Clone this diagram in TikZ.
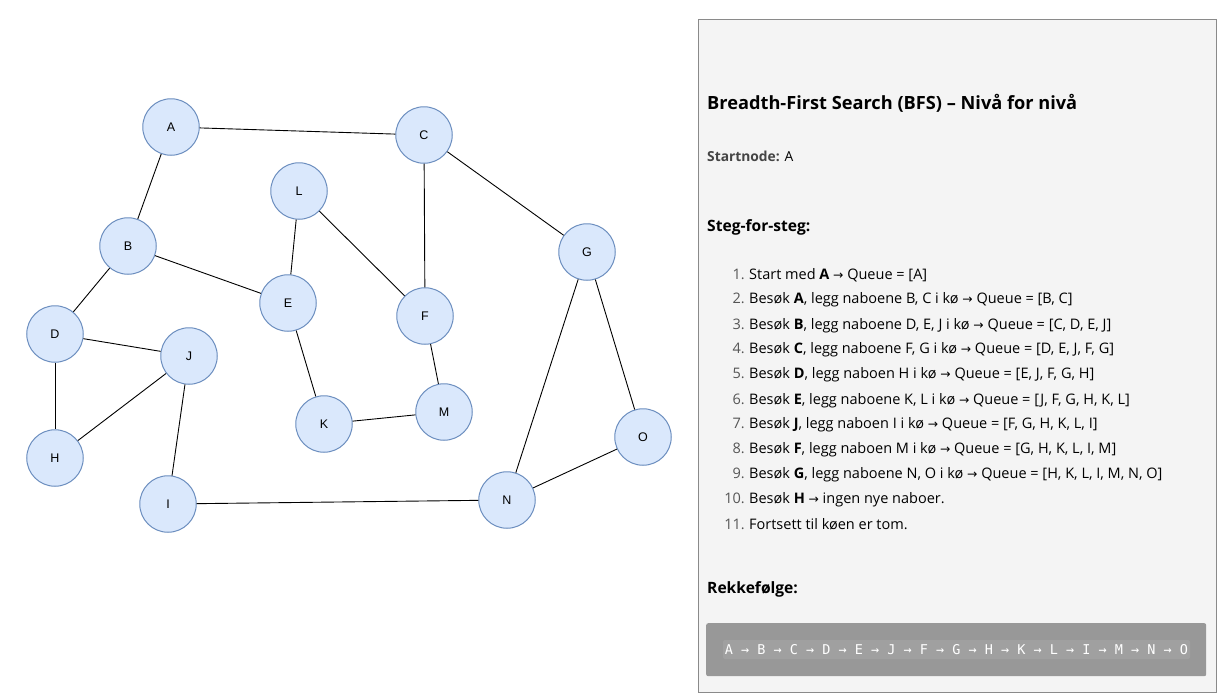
\documentclass[tikz,border=0pt]{standalone}
\usepackage{fontspec}
\setmainfont{Open Sans}
\newfontfamily\nodefont{Liberation Sans}
\newfontfamily\arrfont{DejaVu Sans}
\setmonofont{DejaVu Sans Mono}
\definecolor{nodefill}{HTML}{DAE8FC}
\definecolor{nodeline}{HTML}{6C8EBF}
\definecolor{panelfill}{HTML}{F4F4F4}
\definecolor{panelline}{HTML}{8A8A8A}
\definecolor{barfill}{HTML}{989898}
\definecolor{barinner}{HTML}{A0A0A0}
\definecolor{numgray}{HTML}{555555}
\definecolor{labgray}{HTML}{444444}
\newcommand{\myarr}{{\arrfont\scalebox{0.85}{→}}}
\tikzset{
  gnode/.style={circle, draw=nodeline, fill=nodefill, line width=1pt, minimum size=56.5pt, inner sep=0pt, font=\nodefont\fontsize{12.5}{14}\selectfont},
  gedge/.style={draw=black, line width=0.9pt},
  numtxt/.style={anchor=base east, inner sep=0pt, text=numgray, font=\fontsize{14.5}{17}\selectfont},
  itemtxt/.style={anchor=base west, inner sep=0pt, font=\fontsize{14.5}{17}\selectfont},
  headtxt/.style={anchor=base west, inner sep=0pt, font=\bfseries\fontsize{15.6}{18}\selectfont}
}
\begin{document}
\begin{tikzpicture}[x=1pt,y=-1pt]
\useasboundingbox (0,0) rectangle (1232,699);
% graph nodes
\node[gnode] (A) at (171,127) {A};
\node[gnode] (C) at (424,135) {C};
\node[gnode] (L) at (299,191) {L};
\node[gnode] (B) at (128,246) {B};
\node[gnode] (G) at (587,252) {G};
\node[gnode] (E) at (288,303) {E};
\node[gnode] (F) at (425,316) {F};
\node[gnode] (D) at (55,334) {D};
\node[gnode] (J) at (189,356) {J};
\node[gnode] (M) at (444,412) {M};
\node[gnode] (K) at (324,424) {K};
\node[gnode] (O) at (643,437) {O};
\node[gnode] (H) at (55,458) {H};
\node[gnode] (I) at (168,504) {I};
\node[gnode] (N) at (507,500) {N};
% edges
\draw[gedge] (A) -- (C);
\draw[gedge] (A) -- (B);
\draw[gedge] (C) -- (G);
\draw[gedge] (C) -- (F);
\draw[gedge] (L) -- (E);
\draw[gedge] (L) -- (F);
\draw[gedge] (B) -- (E);
\draw[gedge] (B) -- (D);
\draw[gedge] (G) -- (N);
\draw[gedge] (G) -- (O);
\draw[gedge] (E) -- (K);
\draw[gedge] (F) -- (M);
\draw[gedge] (K) -- (M);
\draw[gedge] (D) -- (J);
\draw[gedge] (D) -- (H);
\draw[gedge] (J) -- (H);
\draw[gedge] (J) -- (I);
\draw[gedge] (I) -- (N);
\draw[gedge] (N) -- (O);
% panel
\node[draw=panelline, fill=panelfill, line width=1.3pt, minimum width=518pt, minimum height=673pt, inner sep=0pt, anchor=north west] (panel) at (698,19) {};
\node[anchor=base west, inner sep=0pt, font=\bfseries\fontsize{18.2}{21}\selectfont] (title) at (707,109.5) {Breadth-First Search (BFS) – Nivå for nivå};
\node[anchor=base west, inner sep=0pt, font=\fontsize{13.8}{16}\selectfont] (start) at (707,161.5) {\textcolor{labgray}{\bfseries Startnode:} A};
\node[headtxt] (steg) at (707,231) {Steg-for-steg:};
% list
\foreach \n/\y/\t in {
 1/279/{Start med \textbf{A} \myarr{} Queue = [A]},
 2/303.5/{Besøk \textbf{A}, legg naboene B, C i kø \myarr{} Queue = [B, C]},
 3/329.5/{Besøk \textbf{B}, legg naboene D, E, J i kø \myarr{} Queue = [C, D, E, J]},
 4/353.5/{Besøk \textbf{C}, legg naboene F, G i kø \myarr{} Queue = [D, E, J, F, G]},
 5/378.5/{Besøk \textbf{D}, legg naboen H i kø \myarr{} Queue = [E, J, F, G, H]},
 6/404/{Besøk \textbf{E}, legg naboene K, L i kø \myarr{} Queue = [J, F, G, H, K, L]},
 7/428.5/{Besøk \textbf{J}, legg naboen I i kø \myarr{} Queue = [F, G, H, K, L, I]},
 8/453.5/{Besøk \textbf{F}, legg naboen M i kø \myarr{} Queue = [G, H, K, L, I, M]},
 9/478.5/{Besøk \textbf{G}, legg naboene N, O i kø \myarr{} Queue = [H, K, L, I, M, N, O]},
 10/503.5/{Besøk \textbf{H} \myarr{} ingen nye naboer.},
 11/529.5/{Fortsett til køen er tom.}}{
  \node[numtxt] (num\n) at (745,\y) {\n.};
  \node[itemtxt] (item\n) at (749,\y) {\t};
}
\node[headtxt] (rekke) at (707,593.5) {Rekkefølge:};
% order bar
\node[fill=barfill, rounded corners=2pt, minimum width=500pt, minimum height=53pt, inner sep=0pt, anchor=north west] (bar) at (706,623) {};
\node[fill=barinner, rounded corners=2pt, minimum width=467pt, minimum height=19pt, inner sep=0pt, text=white, font=\ttfamily\fontsize{13.5}{15}\selectfont] (order) at (956.5,649.5) {A → B → C → D → E → J → F → G → H → K → L → I → M → N → O};
\end{tikzpicture}
\end{document}
